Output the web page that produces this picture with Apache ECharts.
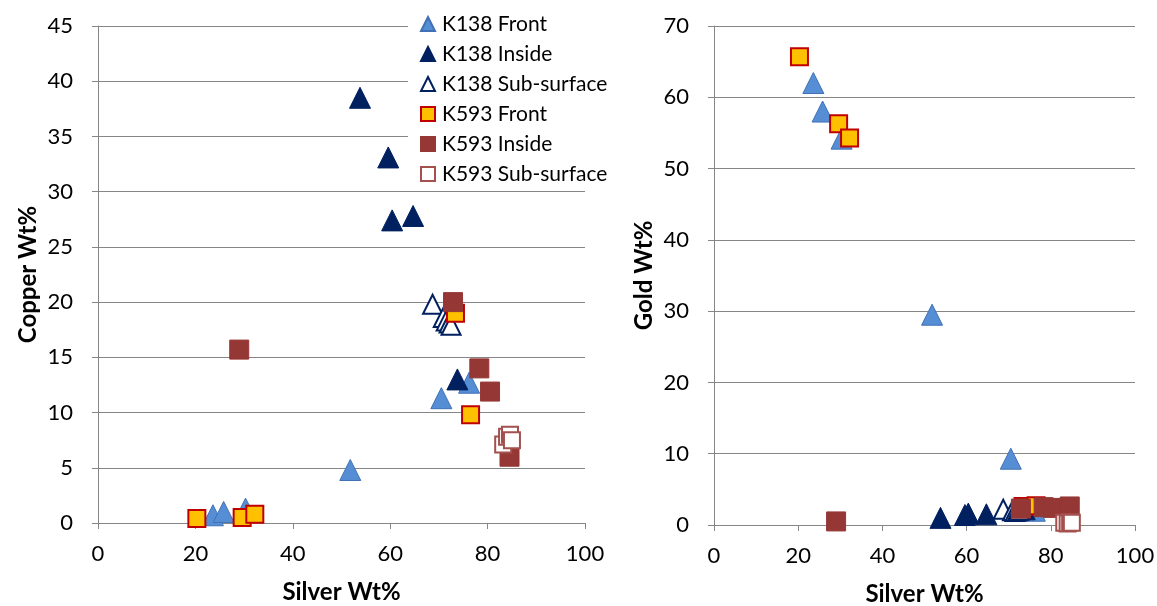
<!DOCTYPE html>
<html>
<head>
<meta charset="utf-8">
<script src="https://cdn.jsdelivr.net/npm/echarts@6/dist/echarts.min.js"></script>
<style>
  html, body { margin: 0; padding: 0; background: #fff; }
  #chart { width: 1157px; height: 606px; }
</style>
</head>
<body>
<div id="chart"></div>
<script>
// Sample composition (Wt%) for each object / measurement location
const seriesNames = ['K138 Front', 'K138 Inside', 'K138 Sub-surface', 'K593 Front', 'K593 Inside', 'K593 Sub-surface'];

const k138FrontSilver = [23.6, 25.8, 30.3, 51.8, 70.5, 76.2];
const k138FrontCopper = [0.7, 1.0, 1.3, 4.8, 11.3, 12.7];
const k138FrontGold   = [62.0, 58.0, 54.2, 29.5, 9.3, 2.0];

const k138InsideSilver = [53.8, 59.6, 60.4, 64.7, 73.8];
const k138InsideCopper = [38.5, 33.1, 27.4, 27.8, 13.0];
const k138InsideGold   = [1.0, 1.4, 1.6, 1.5, 2.2];

const k138SubSilver = [68.7, 70.9, 71.5, 72.1, 72.5];
const k138SubCopper = [19.8, 18.6, 18.3, 18.1, 17.9];
const k138SubGold   = [2.2, 2.0, 1.9, 2.0, 2.1];

const k593FrontSilver = [20.3, 29.6, 32.2, 73.4, 76.5];
const k593FrontCopper = [0.4, 0.5, 0.8, 19.0, 9.8];
const k593FrontGold   = [65.7, 56.3, 54.3, 2.6, 2.7];

const k593InsideSilver = [29.0, 72.9, 78.3, 80.5, 84.5];
const k593InsideCopper = [15.7, 20.0, 14.0, 11.9, 6.0];
const k593InsideGold   = [0.5, 2.3, 2.5, 2.4, 2.6];

const k593SubSilver = [83.2, 84.0, 84.6, 85.0];
const k593SubCopper = [7.1, 7.8, 8.0, 7.5];
const k593SubGold   = [0.3, 0.2, 0.4, 0.3];

const FONT = 'Lato, "Open Sans", sans-serif';
const AXIS_GRAY = '#868686';

// marker styles per series
const styles = [
  { symbol: 'triangle', symbolSize: 21, itemStyle: { color: '#558ED5', borderColor: '#4170B5', borderWidth: 1, opacity: 1 } },
  { symbol: 'triangle', symbolSize: 21, itemStyle: { color: '#002060', borderColor: '#002060', borderWidth: 1, opacity: 1 } },
  { symbol: 'triangle', symbolSize: 19, itemStyle: { color: '#ffffff', borderColor: '#002060', borderWidth: 2, opacity: 1 } },
  { symbol: 'rect', symbolSize: 17, itemStyle: { color: '#FFC000', borderColor: '#C00000', borderWidth: 2, opacity: 1 } },
  { symbol: 'rect', symbolSize: 19, itemStyle: { color: '#953735', borderColor: '#953735', borderWidth: 1, opacity: 1 } },
  { symbol: 'rect', symbolSize: 16, itemStyle: { color: '#ffffff', borderColor: '#A3504E', borderWidth: 2, opacity: 1 } }
];

const silverSets = [k138FrontSilver, k138InsideSilver, k138SubSilver, k593FrontSilver, k593InsideSilver, k593SubSilver];
const copperSets = [k138FrontCopper, k138InsideCopper, k138SubCopper, k593FrontCopper, k593InsideCopper, k593SubCopper];
const goldSets   = [k138FrontGold, k138InsideGold, k138SubGold, k593FrontGold, k593InsideGold, k593SubGold];

function pairs(xs, ys) { return xs.map((x, i) => [x, ys[i]]); }

const series = [];
seriesNames.forEach((name, i) => {
  series.push(Object.assign({
    name, type: 'scatter', xAxisIndex: 0, yAxisIndex: 0,
    data: pairs(silverSets[i], copperSets[i]), z: 2 + i,
    emphasis: { disabled: true }
  }, styles[i]));
});
seriesNames.forEach((name, i) => {
  series.push(Object.assign({
    name, type: 'scatter', xAxisIndex: 1, yAxisIndex: 1,
    data: pairs(silverSets[i], goldSets[i]), z: 2 + i,
    emphasis: { disabled: true }
  }, styles[i]));
});

function xAxisDef(gridIndex) {
  return {
    gridIndex, type: 'value', min: 0, max: 100, interval: 20,
    name: 'Silver Wt%', nameLocation: 'middle', nameGap: 57,
    nameTextStyle: { fontFamily: FONT, fontSize: 24, fontWeight: 'bold', color: '#000' },
    axisLine: { show: true, lineStyle: { color: AXIS_GRAY, width: 1 } },
    axisTick: { show: true, length: 6, lineStyle: { color: AXIS_GRAY } },
    axisLabel: { fontFamily: FONT, fontSize: 22, color: '#000', margin: 20 },
    splitLine: { show: false }
  };
}
function yAxisDef(gridIndex, name, max, interval) {
  return {
    gridIndex, type: 'value', min: 0, max, interval,
    name, nameLocation: 'middle', nameGap: 58, nameRotate: 90,
    nameTextStyle: { fontFamily: FONT, fontSize: 24, fontWeight: 'bold', color: '#000' },
    axisLine: { show: true, lineStyle: { color: AXIS_GRAY, width: 1 } },
    axisTick: { show: true, length: 6, lineStyle: { color: AXIS_GRAY } },
    axisLabel: { fontFamily: FONT, fontSize: 22, color: '#000', margin: 25 },
    splitLine: { show: true, lineStyle: { color: AXIS_GRAY, width: 1 } }
  };
}

const chart = echarts.init(document.getElementById('chart'), null, { renderer: 'canvas' });
chart.setOption({
  animation: false,
  backgroundColor: '#ffffff',
  grid: [
    { left: 98, top: 26, width: 487, height: 497, outerBoundsMode: 'none', containLabel: false },
    { left: 714, top: 26, width: 421, height: 499, outerBoundsMode: 'none', containLabel: false }
  ],
  xAxis: [xAxisDef(0), xAxisDef(1)],
  yAxis: [yAxisDef(0, 'Copper Wt%', 45, 5), yAxisDef(1, 'Gold Wt%', 70, 10)],
  legend: {
    orient: 'vertical', left: 408, top: 10,
    backgroundColor: '#ffffff',
    padding: [3, 8, 3, 12],
    itemWidth: 14, itemHeight: 14, itemGap: 8,
    data: seriesNames,
    textStyle: { fontFamily: FONT, fontSize: 21, color: '#000', lineHeight: 22, padding: [0, 0, 0, 2] }
  },
  series
});
</script>
</body>
</html>
